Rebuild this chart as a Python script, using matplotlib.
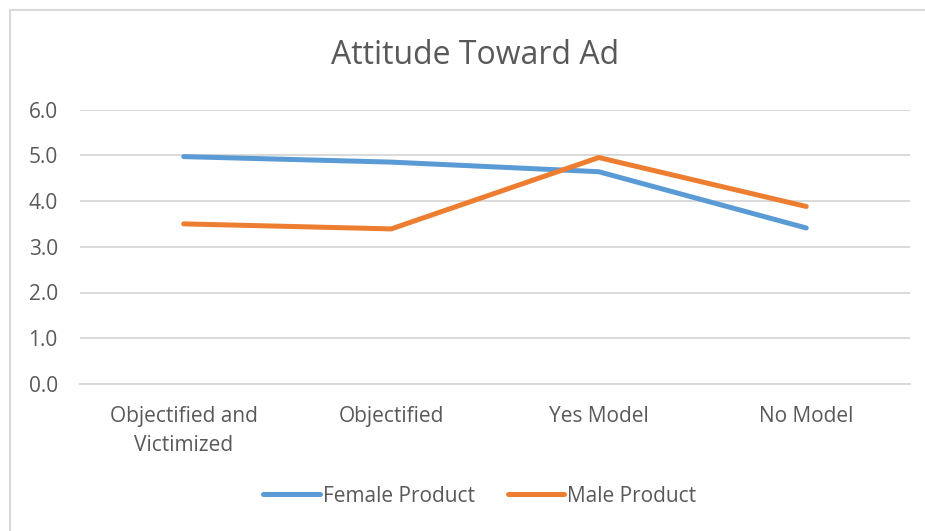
import matplotlib.pyplot as plt
from matplotlib.lines import Line2D

categories = ["Objectified and\nVictimized", "Objectified", "Yes Model", "No Model"]
female_product = [4.97, 4.85, 4.64, 3.41]
male_product = [3.50, 3.39, 4.95, 3.88]
yticks = [0.0, 1.0, 2.0, 3.0, 4.0, 5.0, 6.0]

text_color = '#595959'
grid_color = '#d9d9d9'
colors = {'Female Product': '#5b9bd5', 'Male Product': '#ed7d31'}

plt.rcParams['font.family'] = ['Open Sans', 'DejaVu Sans']

fig = plt.figure(figsize=(9.25, 5.31), dpi=100)
ax = fig.add_axes([80 / 925, 1 - 384 / 531, 830 / 925, 274.5 / 531])

x = range(len(categories))
ax.plot(x, female_product, color=colors['Female Product'], linewidth=3.6,
        solid_capstyle='round', solid_joinstyle='round', label='Female Product')
ax.plot(x, male_product, color=colors['Male Product'], linewidth=3.6,
        solid_capstyle='round', solid_joinstyle='round', label='Male Product')

ax.set_xlim(-0.5, len(categories) - 0.5)
ax.set_ylim(0, 6)
ax.set_yticks(yticks)
ax.set_yticklabels([f"{v:.1f}" for v in yticks])
ax.set_xticks(list(x))
ax.set_xticklabels(categories, linespacing=1.5)
ax.tick_params(axis='both', length=0, labelsize=15, colors=text_color)
ax.tick_params(axis='y', pad=16)
ax.tick_params(axis='x', pad=16)

ax.grid(axis='y', color=grid_color, linewidth=1.4)
ax.set_axisbelow(True)
for s in ['top', 'right', 'left']:
    ax.spines[s].set_visible(False)
ax.spines['bottom'].set_color(grid_color)
ax.spines['bottom'].set_linewidth(1.4)

fig.text(475 / 925, 1 - 55 / 531, 'Attitude Toward Ad', ha='center', va='center',
         fontsize=23, color=text_color)

fig.legend(loc='center', bbox_to_anchor=(480 / 925, 1 - 496 / 531), ncol=2,
           frameon=False, fontsize=15, labelcolor=text_color, handlelength=2.7,
           handletextpad=0.15, columnspacing=1.6)

# chart frame (only top and left edges visible in the crop)
fig.add_artist(Line2D([10 / 925, 1], [1 - 10 / 531] * 2, color=grid_color, linewidth=1.5))
fig.add_artist(Line2D([10 / 925] * 2, [0, 1 - 10 / 531], color=grid_color, linewidth=1.5))

fig.savefig('out.png', dpi=100)
